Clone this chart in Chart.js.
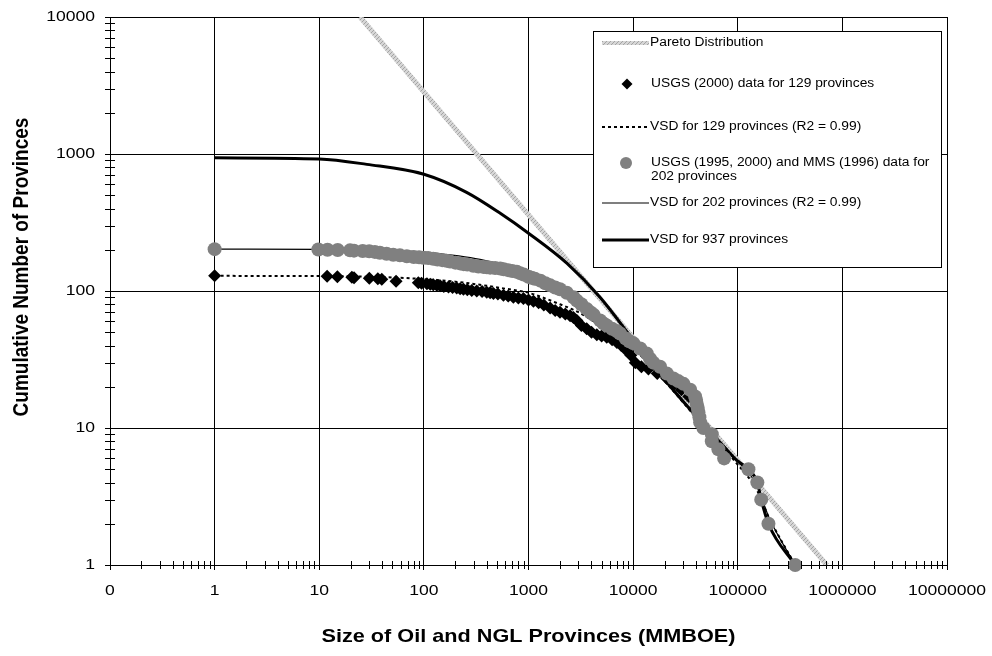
<!DOCTYPE html>
<html>
<head>
<meta charset="utf-8">
<script src="https://cdn.jsdelivr.net/npm/chart.js@4.4.1/dist/chart.umd.min.js"></script>
<style>
  html, body { margin: 0; padding: 0; background: #fff; }
</style>
</head>
<body>
<canvas id="chart" width="992" height="656"></canvas>
<script>
// axis ticks (decades) and their printed labels
const xDecades = [0.1, 1, 10, 100, 1000, 10000, 100000, 1000000, 10000000];
const xTickLabels = ["0", "1", "10", "100", "1000", "10000", "100000", "1000000", "10000000"];
const yDecades = [1, 10, 100, 1000, 10000];
const yTickLabels = ["1", "10", "100", "1000", "10000"];

const xTitle = "Size of Oil and NGL Provinces (MMBOE)";
const yTitle = "Cumulative Number of Provinces";

// Pareto distribution (straight line on log-log)
const paretoX = [24.5, 711000];
const paretoY = [10000, 1];

// USGS (2000) data for 129 provinces
const usgs2000X = [1, 11.9, 14.9, 20.5, 21.5, 30.1, 36.3, 39.6, 54.2, 88.5,
  95, 107, 115, 123, 133, 143, 155, 172, 188, 206,
  222, 239, 260, 287, 320, 360, 399, 430, 462, 510,
  576, 640, 717, 800, 894, 1000, 1115, 1250, 1400, 1610,
  1800, 2000, 2250, 2500, 2690, 2900, 3200, 3600, 4000, 4500,
  5000, 5600, 6300, 7000, 7700, 8600, 9500, 10500, 12000, 14000,
  17000, 21000, 25000, 29000, 34000, 40000];
const usgs2000Y = [129, 128, 127, 126, 125, 124, 123, 122, 118, 115,
  114, 113, 112, 111, 110, 109, 108, 107, 106, 105,
  104, 103, 102, 101, 100, 99, 98, 97, 96, 95,
  93, 92, 90, 89, 88, 86, 84, 82, 79, 75,
  72, 70, 68, 66, 64, 61, 56, 53, 50, 48,
  47, 46, 44, 42, 40, 37, 34, 30, 28, 27,
  25, 23, 21, 19, 17, 14];

// VSD fit for 129 provinces
const vsd129X = [1, 10, 30, 59, 100, 200, 344, 600, 1000, 2000, 3000, 5000, 10000, 20000, 43700, 98000, 150000, 200000, 354000];
const vsd129Y = [129, 128.5, 127, 125, 122, 117, 111, 104, 97, 80, 70, 55, 38, 22, 11, 5.5, 3.6, 2.2, 1];

// USGS (1995, 2000) and MMS (1996) data for 202 provinces
const all202X = [1, 9.8, 12, 15, 19.7, 21.5, 26, 30, 34, 38,
  44, 51, 59, 68.7, 80, 90, 99, 110, 123, 135,
  150, 165, 178, 200, 222, 240, 260, 297, 332, 370,
  400, 430, 480, 537, 580, 640, 700, 773, 830, 900,
  1000, 1070, 1150, 1300, 1450, 1610, 1800, 2000, 2320, 2690,
  2900, 3200, 3600, 3900, 4200, 4840, 5200, 5600, 6300, 6970,
  7500, 8500, 9200, 10070, 11700, 13500, 14500, 15600, 18100, 21000,
  24300, 27000, 30300, 35100, 39100, 40000, 40600, 41500, 42100, 43000,
  43700, 47000, 56500, 56500, 65300, 74100, 126500, 154000, 167600, 196500,
  354000];
const all202Y = [202, 201, 200, 199, 198, 197, 196, 195, 193, 190,
  187, 184, 182, 179, 177, 176, 175, 174, 172, 170,
  168, 166, 164, 161, 159, 157, 156, 153, 151, 150,
  149, 148, 147, 146, 144, 142, 140, 138, 135, 132,
  127, 125, 123, 119, 114, 110, 106, 103, 97, 90,
  85, 80, 74, 70, 67, 61, 58, 56, 53, 51,
  49, 45, 43, 41.5, 38, 35, 32, 30, 28, 25,
  23, 22, 21, 19, 17, 16, 15, 14, 13, 12,
  11, 10, 9, 8, 7, 6, 5, 4, 3, 2,
  1];

// VSD fit for 202 provinces
const vsd202X = [1, 10, 59, 100, 344, 1000, 2000, 4000, 10000, 20000, 43700, 98000, 150000, 200000, 354000];
const vsd202Y = [202, 201, 197, 192, 170, 135, 105, 72, 43, 23, 11.3, 5.8, 3.9, 2.2, 1];

// VSD for 937 provinces
const vsd937X = [1, 10, 28.5, 100, 256, 537, 1000, 2335, 4826, 10000, 20000, 43700, 74000, 98000, 126500, 154000, 167600, 196500, 354000];
const vsd937Y = [937, 920, 840, 711, 525, 369, 264, 159, 90, 44, 22.5, 11.3, 7.3, 5.8, 5, 4, 3, 2, 1];

function pts(xs, ys) {
    return xs.map((x, i) => ({ x: x, y: ys[i] }));
}

// light grey "rope" look of the Pareto line
function makeHatch() {
    const c = document.createElement("canvas");
    c.width = 4; c.height = 4;
    const g = c.getContext("2d");
    g.fillStyle = "#d6d6d6";
    g.fillRect(0, 0, 4, 4);
    g.strokeStyle = "#a4a4a4";
    g.lineWidth = 1;
    g.beginPath();
    g.moveTo(0, 4); g.lineTo(4, 0);
    g.moveTo(-1, 1); g.lineTo(1, -1);
    g.moveTo(3, 5); g.lineTo(5, 3);
    g.stroke();
    return g.createPattern(c, "repeat");
}
const hatch = makeHatch();

const FONT = "'Liberation Sans', Arial, sans-serif";

function wideText(ctx, text, x, y, sx, align) {
    ctx.save();
    ctx.translate(x, y);
    ctx.scale(sx, 1);
    ctx.textAlign = align;
    ctx.fillText(text, 0, 0);
    ctx.restore();
}

const decor = {
    id: "decor",
    beforeDraw(chart) {
        const ctx = chart.ctx;
        ctx.save();
        ctx.fillStyle = "#fff";
        ctx.fillRect(0, 0, chart.width, chart.height);
        ctx.restore();
    },
    afterDraw(chart) {
        const ctx = chart.ctx;
        const xs = chart.scales.x, ys = chart.scales.y, a = chart.chartArea;
        ctx.save();

        // minor ticks crossing the axes
        ctx.strokeStyle = "#000";
        ctx.lineWidth = 1;
        ctx.beginPath();
        for (let i = 0; i < xDecades.length - 1; i++) {
            for (let m = 2; m <= 9; m++) {
                const px = Math.round(xs.getPixelForValue(m * xDecades[i])) + 0.5;
                ctx.moveTo(px, a.bottom - 4);
                ctx.lineTo(px, a.bottom + 4);
            }
        }
        for (let i = 0; i < yDecades.length - 1; i++) {
            for (let m = 2; m <= 9; m++) {
                const py = Math.round(ys.getPixelForValue(m * yDecades[i])) + 0.5;
                ctx.moveTo(a.left - 5, py);
                ctx.lineTo(a.left + 5, py);
            }
        }
        ctx.stroke();

        // tick labels
        ctx.fillStyle = "#000";
        ctx.textBaseline = "middle";
        ctx.font = "15px " + FONT;
        xDecades.forEach((v, i) => wideText(ctx, xTickLabels[i], xs.getPixelForValue(v), 591, 1.17, "center"));
        yDecades.forEach((v, i) => wideText(ctx, yTickLabels[i], 95, ys.getPixelForValue(v), 1.17, "right"));

        // axis titles
        ctx.font = "bold 19px " + FONT;
        wideText(ctx, xTitle, (a.left + a.right) / 2, 637, 1.14, "center");
        ctx.save();
        ctx.translate(22, 267);
        ctx.rotate(-Math.PI / 2);
        ctx.scale(1, 1.15);
        ctx.textAlign = "center";
        ctx.fillText(yTitle, 0, 0);
        ctx.restore();

        // legend box
        const L = { x: 593.5, y: 31.5, w: 348, h: 236 };
        ctx.fillStyle = "#fff";
        ctx.fillRect(L.x, L.y, L.w, L.h);
        ctx.strokeStyle = "#000";
        ctx.lineWidth = 1;
        ctx.strokeRect(L.x, L.y, L.w, L.h);

        function sampleLine(y, style, width, dash) {
            ctx.save();
            ctx.strokeStyle = style;
            ctx.lineWidth = width;
            ctx.setLineDash(dash || []);
            ctx.beginPath();
            ctx.moveTo(602, y);
            ctx.lineTo(649, y);
            ctx.stroke();
            ctx.restore();
        }
        sampleLine(43, hatch, 4);
        sampleLine(127, "#000", 2, [3, 3]);
        sampleLine(203, "#000", 1.2);
        sampleLine(240, "#000", 3);

        ctx.fillStyle = "#000";
        ctx.beginPath();
        ctx.moveTo(627, 78.5); ctx.lineTo(632.5, 84); ctx.lineTo(627, 89.5); ctx.lineTo(621.5, 84);
        ctx.closePath();
        ctx.fill();
        ctx.fillStyle = "#808080";
        ctx.beginPath();
        ctx.arc(626, 163, 6, 0, Math.PI * 2);
        ctx.fill();

        ctx.fillStyle = "#000";
        ctx.font = "12px " + FONT;
        ctx.textBaseline = "middle";
        wideText(ctx, "Pareto Distribution", 650, 43, 1.15, "left");
        wideText(ctx, "USGS (2000) data for 129 provinces", 651, 84, 1.15, "left");
        wideText(ctx, "VSD for 129 provinces (R2 = 0.99)", 650, 127, 1.15, "left");
        wideText(ctx, "USGS (1995, 2000) and MMS (1996) data for", 651, 163, 1.15, "left");
        wideText(ctx, "202 provinces", 651, 177, 1.15, "left");
        wideText(ctx, "VSD for 202 provinces (R2 = 0.99)", 650, 203, 1.15, "left");
        wideText(ctx, "VSD for 937 provinces", 650, 240, 1.15, "left");

        ctx.restore();
    }
};

function decadeTicks(list) {
    return function (scale) {
        scale.ticks = list.map(v => ({ value: v }));
    };
}

new Chart(document.getElementById("chart"), {
    type: "scatter",
    data: {
        datasets: [
            {
                label: "Pareto Distribution",
                data: pts(paretoX, paretoY),
                showLine: true,
                borderColor: hatch,
                borderWidth: 5,
                pointRadius: 0,
                order: 6
            },
            {
                label: "USGS (2000) data for 129 provinces",
                data: pts(usgs2000X, usgs2000Y),
                pointStyle: "rectRot",
                pointRadius: 6.5,
                backgroundColor: "#000",
                borderColor: "#000",
                borderWidth: 0,
                clip: false,
                order: 2
            },
            {
                label: "VSD for 129 provinces (R2 = 0.99)",
                data: pts(vsd129X, vsd129Y),
                showLine: true,
                borderColor: "#000",
                borderWidth: 2,
                borderDash: [3, 3],
                cubicInterpolationMode: "monotone",
                pointRadius: 0,
                order: 5
            },
            {
                label: "USGS (1995, 2000) and MMS (1996) data for 202 provinces",
                data: pts(all202X, all202Y),
                pointStyle: "circle",
                pointRadius: 7,
                backgroundColor: "#808080",
                borderColor: "#808080",
                borderWidth: 0,
                clip: false,
                order: 1
            },
            {
                label: "VSD for 202 provinces (R2 = 0.99)",
                data: pts(vsd202X, vsd202Y),
                showLine: true,
                borderColor: "#000",
                borderWidth: 1.2,
                cubicInterpolationMode: "monotone",
                pointRadius: 0,
                order: 4
            },
            {
                label: "VSD for 937 provinces",
                data: pts(vsd937X, vsd937Y),
                showLine: true,
                borderColor: "#000",
                borderWidth: 3,
                cubicInterpolationMode: "monotone",
                pointRadius: 0,
                order: 3
            }
        ]
    },
    options: {
        responsive: false,
        animation: false,
        events: [],
        layout: { padding: { top: 17, right: 45, left: 0, bottom: 0 } },
        plugins: {
            legend: { display: false },
            tooltip: { enabled: false }
        },
        scales: {
            x: {
                type: "logarithmic",
                min: 0.1,
                max: 10000000,
                afterBuildTicks: decadeTicks(xDecades),
                afterFit: function (s) { s.height = 91; },
                ticks: { display: false },
                grid: { color: "#000", lineWidth: 1, tickLength: 5, drawTicks: true },
                border: { display: true, color: "#000", width: 1 }
            },
            y: {
                type: "logarithmic",
                min: 1,
                max: 10000,
                afterBuildTicks: decadeTicks(yDecades),
                afterFit: function (s) { s.width = 110; },
                ticks: { display: false },
                grid: { color: "#000", lineWidth: 1, tickLength: 5, drawTicks: true },
                border: { display: true, color: "#000", width: 1 }
            }
        }
    },
    plugins: [decor]
});
</script>
</body>
</html>
